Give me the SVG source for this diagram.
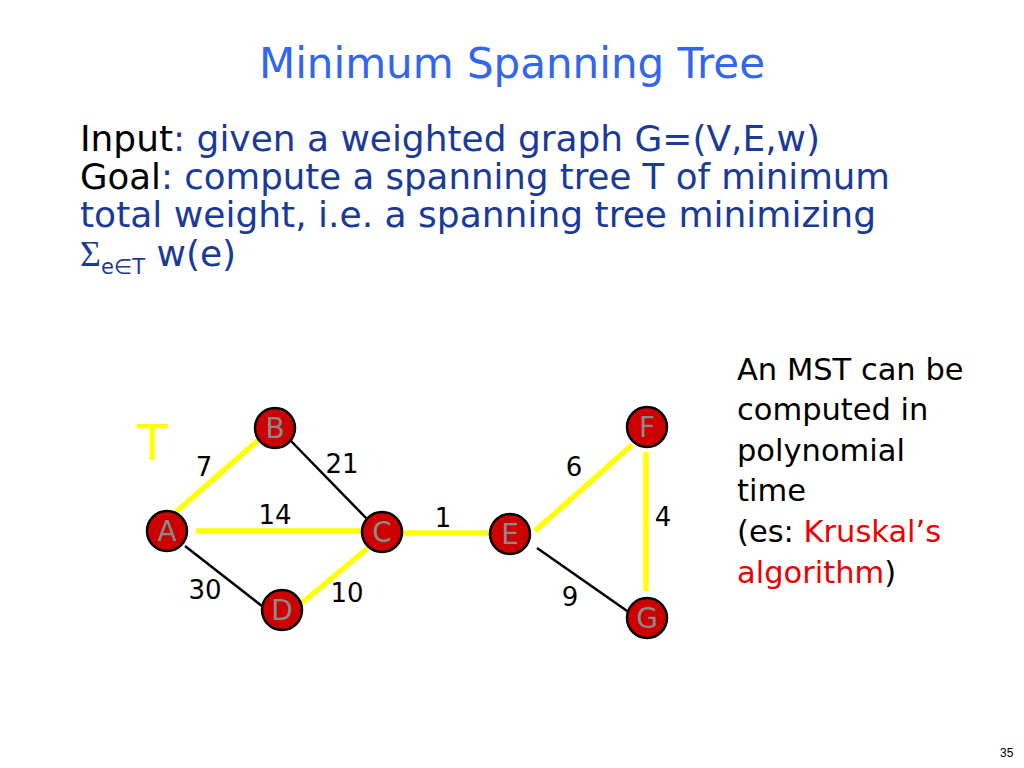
<svg xmlns="http://www.w3.org/2000/svg" width="1024" height="768" viewBox="0 0 1024 768">
<style>
.title{font-family:"DejaVu Sans",sans-serif;font-size:42px;fill:#3366ee}
.body{font-family:"DejaVu Sans",sans-serif;font-size:36px;fill:#1a3a9a}
.blk{fill:#000}
.side{font-family:"DejaVu Sans",sans-serif;font-size:30.5px;fill:#000}
.red{fill:#ee0000}
.w{font-family:"DejaVu Sans",sans-serif;font-size:26px;fill:#000;text-anchor:middle}
.node circle{fill:#cc0000;stroke:#000;stroke-width:2.5}
.node text{font-family:"DejaVu Sans",sans-serif;font-size:28px;fill:#8a8a8a;text-anchor:middle}
.y{stroke:#ffff00;stroke-width:5.5;fill:none}
.k{stroke:#000;stroke-width:2.5;fill:none}
</style>
<rect width="1024" height="768" fill="#fff"/>
<text class="title" x="512" y="78" text-anchor="middle">Minimum Spanning Tree</text>
<text class="body" x="80" y="151" textLength="740" lengthAdjust="spacingAndGlyphs"><tspan class="blk">Input</tspan>: given a weighted graph G=(V,E,w)</text>
<text class="body" x="80" y="189" textLength="810" lengthAdjust="spacingAndGlyphs"><tspan class="blk">Goal</tspan>: compute a spanning tree T of minimum</text>
<text class="body" x="80" y="227" textLength="796" lengthAdjust="spacingAndGlyphs">total weight, i.e. a spanning tree minimizing</text>
<text class="body" x="80" y="266" font-size="34"><tspan font-family="Liberation Serif, serif">Σ</tspan><tspan font-size="21" dy="8">e∈T</tspan><tspan dy="-8" font-size="36"> w(e)</tspan></text>

<text font-family="DejaVu Sans, sans-serif" font-size="50" fill="#ffff00" x="137" y="460">T</text>

<g id="connectors">
<line class="y" x1="176" y1="512" x2="262" y2="437"/>
<line class="y" x1="196" y1="531" x2="364" y2="531"/>
<line class="y" x1="302" y1="603" x2="368" y2="548"/>
<line class="y" x1="400" y1="533" x2="494" y2="533"/>
<line class="y" x1="535" y1="531" x2="632" y2="445"/>
<line class="y" x1="646" y1="452" x2="646" y2="591"/>
<line class="k" x1="290" y1="440" x2="367" y2="519"/>
<line class="k" x1="185" y1="546" x2="267" y2="610"/>
<line class="k" x1="537" y1="548" x2="630" y2="613"/>
</g>

<text class="w" x="204" y="476">7</text>
<text class="w" x="342" y="473">21</text>
<text class="w" x="275" y="524">14</text>
<text class="w" x="205" y="599">30</text>
<text class="w" x="347" y="602">10</text>
<text class="w" x="443" y="527">1</text>
<text class="w" x="574" y="476">6</text>
<text class="w" x="663" y="526">4</text>
<text class="w" x="570" y="606">9</text>

<g id="A" class="node"><circle cx="167" cy="531" r="20"/><text x="167" y="541">A</text></g>
<g id="B" class="node"><circle cx="275" cy="428" r="20"/><text x="275" y="438">B</text></g>
<g id="C" class="node"><circle cx="382" cy="532" r="20"/><text x="382" y="542">C</text></g>
<g id="D" class="node"><circle cx="282" cy="610" r="20"/><text x="282" y="620">D</text></g>
<g id="E" class="node"><circle cx="510" cy="534" r="20"/><text x="510" y="544">E</text></g>
<g id="F" class="node"><circle cx="647" cy="427" r="20"/><text x="647" y="437">F</text></g>
<g id="G" class="node"><circle cx="647" cy="618" r="20"/><text x="647" y="628">G</text></g>

<text class="side" x="737" y="380">An MST can be</text>
<text class="side" x="737" y="420">computed in</text>
<text class="side" x="737" y="461">polynomial</text>
<text class="side" x="737" y="501">time</text>
<text class="side" x="737" y="542">(es: <tspan class="red">Kruskal’s</tspan></text>
<text class="side" x="737" y="583"><tspan class="red">algorithm</tspan>)</text>

<text font-family="Liberation Sans, sans-serif" font-size="12" fill="#000" x="1000" y="757">35</text>
</svg>
